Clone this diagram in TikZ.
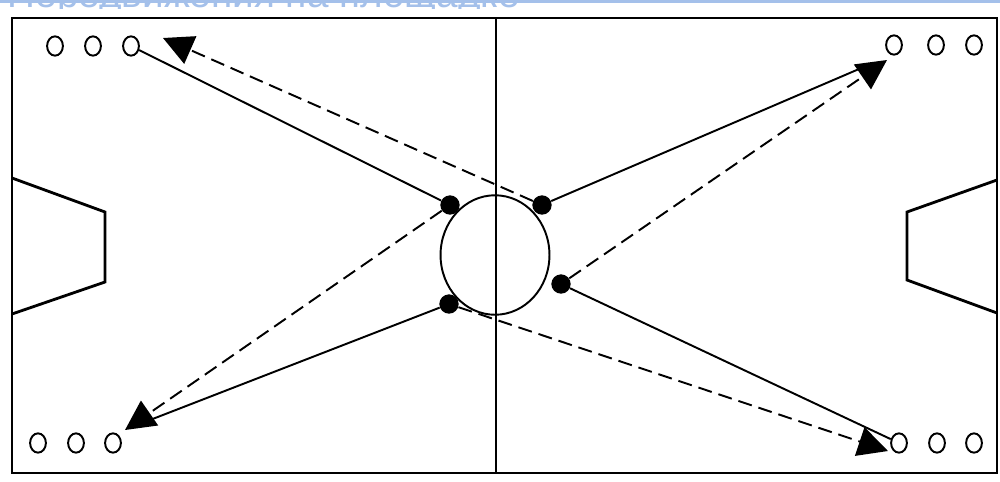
\documentclass[tikz,border=0pt]{standalone}
\usepackage{fontspec}
\setmainfont{Liberation Sans}
\usetikzlibrary{arrows.meta,shapes.geometric}
\definecolor{band}{RGB}{164,192,234}
\begin{document}
\begin{tikzpicture}[x=0.02cm,y=-0.02cm,
  player/.style={draw,ellipse,line width=1.1pt,minimum width=9pt,minimum height=11pt,inner sep=0pt},
  dot/.style={circle,fill=black,minimum size=11pt,inner sep=0pt},
  run/.style={line width=1.1pt},
  pass/.style={line width=1.1pt,dash pattern=on 8pt off 4pt},
  tip/.style={-{Triangle[length=17pt,width=17pt]}},
  field/.style={line width=1.6pt}]
\useasboundingbox (0,0) rectangle (1000,481);
\fill[white] (0,0) rectangle (1000,481);
% title band (cut off)
\fill[band] (0,0) rectangle (1000,3);
\begin{scope}
\clip (0,0) rectangle (1000,8);
\node[anchor=base east,text=band,font=\fontsize{22}{22}\selectfont,inner sep=0pt] (title) at (520,7) {Передвижения на площадке};
\end{scope}
% field
\draw[field] (12,18) rectangle (997,473);
\coordinate (mt) at (496,18);
\coordinate (mb) at (496,473);
\draw[line width=1.4pt] (mt) -- (mb);
\node[draw,ellipse,line width=1.1pt,minimum width=62pt,minimum height=68pt,inner sep=0pt] (cc) at (495,255) {};
% goals
\draw[field] (12,178) -- (105,212) -- (105,282) -- (12,314);
\draw[field] (997,180) -- (907,212) -- (907,280) -- (997,313);
% players
\node[player] (tl1) at (55,46) {};
\node[player] (tl2) at (93,46) {};
\node[player] (tl3) at (131,46) {};
\node[player] (tr1) at (894,45) {};
\node[player] (tr2) at (936,45) {};
\node[player] (tr3) at (974,45) {};
\node[player] (bl1) at (38,443) {};
\node[player] (bl2) at (76,443) {};
\node[player] (bl3) at (113,443) {};
\node[player] (br1) at (899,443) {};
\node[player] (br2) at (937,443) {};
\node[player] (br3) at (974,443) {};
% dots
\node[dot] (d1) at (450,205) {};
\node[dot] (d2) at (542,205) {};
\node[dot] (d3) at (449,304) {};
\node[dot] (d4) at (561,284) {};
% arrow tips
\coordinate (aTL) at (163,38);
\coordinate (aBL) at (125,430);
\coordinate (aTR) at (887,60);
\coordinate (aBR) at (888,451);
\coordinate (eBL) at (150,420);
\coordinate (eTR) at (866,66);
% runs
\draw[run] (tl3) -- (d1);
\draw[run] (d3) -- (eBL);
\draw[run] (d2) -- (eTR);
\draw[run] (d4) -- (br1);
% passes
\draw[pass,tip] (d2) -- (aTL);
\draw[pass,tip] (d1) -- (aBL);
\draw[pass,tip] (d4) -- (aTR);
\draw[pass,tip] (d3) -- (aBR);
\end{tikzpicture}
\end{document}
